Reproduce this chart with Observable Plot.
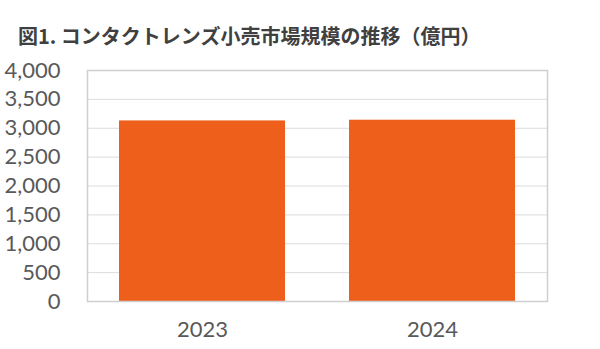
<!DOCTYPE html>
<html><head><meta charset="utf-8">
<script src="https://cdn.jsdelivr.net/npm/d3@7"></script>
<script src="https://cdn.jsdelivr.net/npm/@observablehq/plot@0.6"></script>
<style>
body{margin:0;background:#fff;}
#title{height:55px;box-sizing:border-box;padding:25px 0 0 18px;font-family:"Noto Sans CJK JP","Noto Sans",sans-serif;font-weight:bold;font-size:20px;line-height:22px;color:#404040;white-space:nowrap;}
</style>
</head><body>
<div id="title">図1. コンタクトレンズ小売市場規模の推移（億円）</div>
<div id="chart"></div>
<script>
const years = ["2023", "2024"];
const values = [3127, 3139];
const yTicks = [0, 500, 1000, 1500, 2000, 2500, 3000, 3500, 4000];

const data = years.map((y, i) => ({year: y, value: values[i]}));

const plot = Plot.plot({
  width: 600,
  height: 294,
  marginTop: 15,
  marginBottom: 48,
  marginLeft: 87,
  marginRight: 53,
  style: {fontFamily: "Lato, sans-serif", fontSize: "22px", color: "#595959", background: "#fff"},
  x: {domain: years, paddingInner: 0.28, paddingOuter: 0.14, label: null},
  y: {domain: [0, 4000], label: null},
  marks: [
    Plot.ruleY(yTicks, {stroke: "#dcdcdc", strokeWidth: 1}),
    Plot.barY(data, {x: "year", y: "value", fill: "#EE5F1C"}),
    Plot.frame({stroke: "#cfcfcf", strokeWidth: 1.5}),
    Plot.axisX({tickSize: 0, tickPadding: 20, fontSize: 22, fill: "#595959"}),
    Plot.axisY({ticks: yTicks, tickSize: 0, tickPadding: 27, tickFormat: d3.format(","), fontSize: 22, fill: "#595959"})
  ]
});
document.getElementById("chart").appendChild(plot);
</script>
</body></html>
